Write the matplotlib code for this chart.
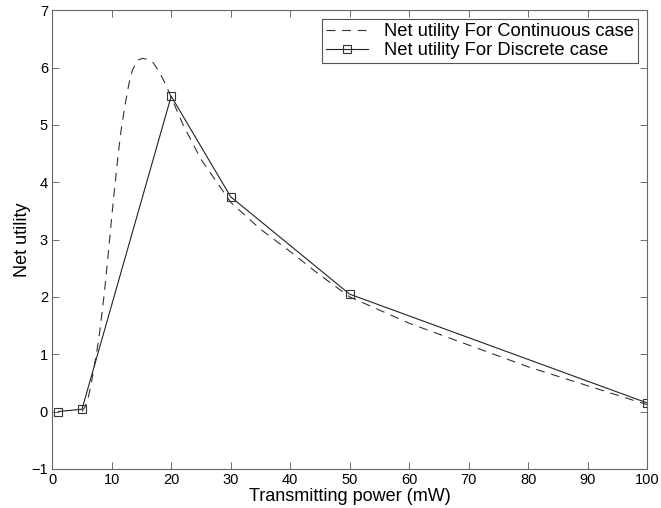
import matplotlib
matplotlib.use("Agg")
import matplotlib.pyplot as plt

plt.rcParams['font.family'] = ['Liberation Sans', 'DejaVu Sans']

# continuous case
cont_x = [5, 5.5, 6, 6.5, 7, 7.5, 8, 8.8, 9.6, 10.2, 11, 11.5, 12.2, 12.9, 13.5,
          14.4, 15.2, 16, 17, 18, 19, 20, 22, 25, 30, 35, 40, 45, 50, 60, 70, 80, 90, 100]
cont_y = [0.0, 0.08, 0.22, 0.45, 0.75, 1.05, 1.4, 2.1, 2.95, 3.6, 4.4, 4.85, 5.32, 5.72, 5.96,
          6.13, 6.16, 6.14, 6.08, 5.92, 5.72, 5.48, 5.0, 4.4, 3.65, 3.18, 2.79, 2.38, 2.0,
          1.54, 1.16, 0.78, 0.45, 0.12]

# discrete case
disc_x = [1, 5, 20, 30, 50, 100]
disc_y = [0.0, 0.04, 5.5, 3.745, 2.047, 0.15]

fig = plt.figure(figsize=(6.61, 5.08), dpi=100)
ax = fig.add_axes([0.079, 0.077, 0.900, 0.903])

ax.plot(cont_x, cont_y, color='#333333', linewidth=0.8, dashes=(8, 6),
        label='Net utility For Continuous case')
ax.plot(disc_x, disc_y, color='#222222', linewidth=0.8, marker='s', markersize=6,
        markerfacecolor='none', markeredgecolor='#333333', markeredgewidth=0.8,
        label='Net utility For Discrete case')

ax.set_xlim(0, 100)
ax.set_ylim(-1, 7)
ax.set_xticks(range(0, 101, 10))
ax.set_yticks(range(-1, 8))
ax.set_yticklabels(['\u22121'] + [str(i) for i in range(0, 8)])
ax.tick_params(direction='in', top=True, right=True, length=5, width=0.6,
               labelsize=10.5, color='#555555', pad=3)
for s in ax.spines.values():
    s.set_color('#666666')
    s.set_linewidth(0.8)

ax.set_xlabel('Transmitting power (mW)', fontsize=13, labelpad=1)
ax.set_ylabel('Net utility', fontsize=13, labelpad=0)

leg = ax.legend(loc='upper right', fontsize=13.2, fancybox=False, framealpha=1,
                borderaxespad=0.5, handlelength=2.3, handletextpad=0.9,
                borderpad=0.2, labelspacing=0.12)
leg.get_frame().set_edgecolor('#555555')
leg.get_frame().set_linewidth(0.8)

fig.savefig('out.png', dpi=100)
